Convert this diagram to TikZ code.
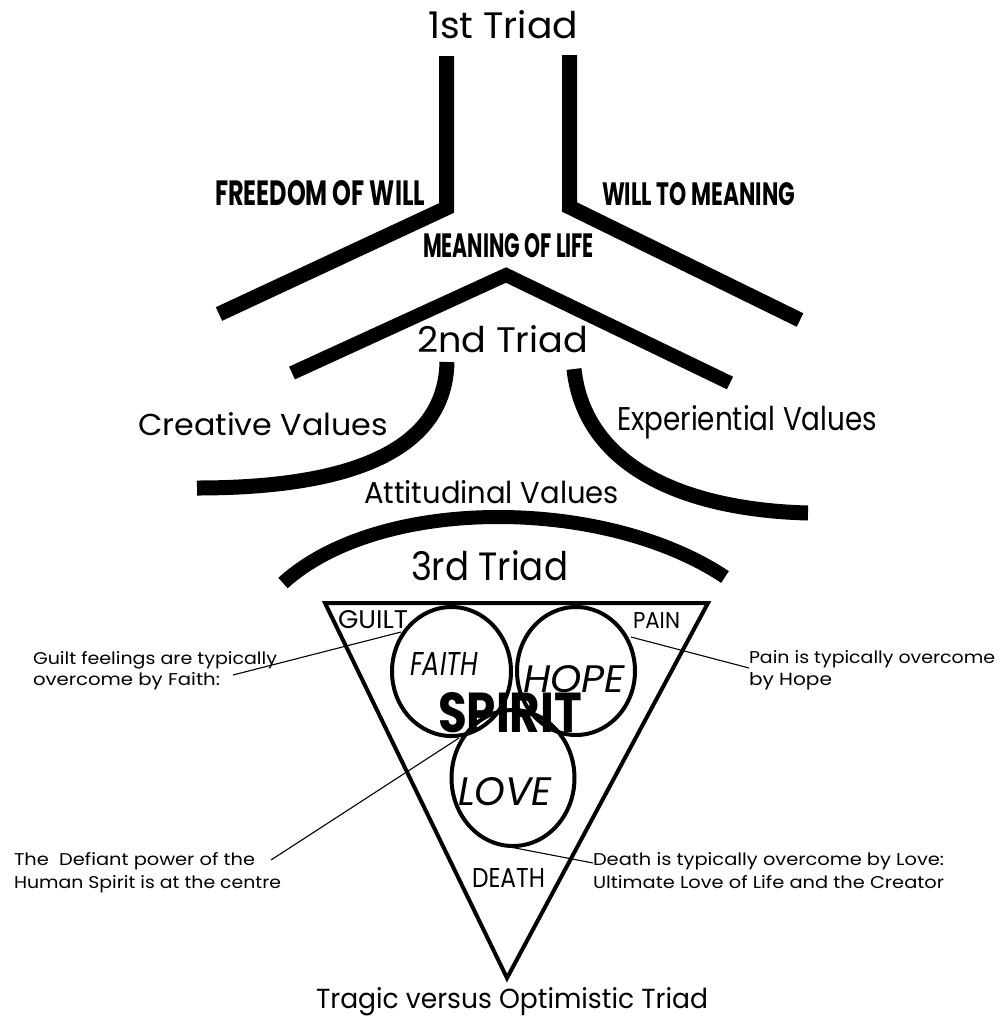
\documentclass[tikz,border=0pt]{standalone}
\usepackage{fontspec}
\setmainfont{Poppins}
\usepackage{graphicx}
\usetikzlibrary{shapes.geometric}
\newcommand{\fitt}[3]{\resizebox{#1pt}{#2pt}{#3}}
\tikzset{
  bar/.style={line width=15pt, line join=miter},
  vbar/.style={line width=14pt, line join=miter},
  thinline/.style={line width=1.1pt},
  lbl/.style={inner sep=0pt, outer sep=0pt, anchor=base west},
  ring/.style={draw, ellipse, line width=4pt, inner sep=0pt},
}
\begin{document}
\begin{tikzpicture}[x=1pt, y=-1pt]
\fill[white] (0,0) rectangle (1000,1021);
\useasboundingbox (0,0) rectangle (1000,1021);

% first triad
\node[lbl] (t1) at (428,38) {\fitt{150}{28}{1st Triad}};
\draw[bar] (446.5,56) -- (446.5,208) -- (219,314);
\draw[bar] (569.5,55) -- (569.5,207) -- (800,320);
\node[lbl] (fw) at (215,205) {\fitt{210}{25}{\bfseries FREEDOM OF WILL}};
\node[lbl] (wm) at (602,205) {\fitt{193}{23}{\bfseries WILL TO MEANING}};
\node[lbl] (ml) at (423,257) {\fitt{171}{24}{\bfseries MEANING OF LIFE}};

% second triad
\draw[vbar] (292,373) -- (506,275) -- (730,383);
\node[lbl] (t2) at (417,352) {\fitt{171}{27}{2nd Triad}};
\draw[bar] (447,362) .. controls (445,460) and (330,488) .. (197,488);
\draw[bar] (574,369) .. controls (585,470) and (690,510) .. (808,513);
\node[lbl] (cv) at (138,435) {\fitt{250}{23}{Creative Values}};
\node[lbl] (ev) at (617,430) {\fitt{260}{25}{Experiential Values}};
\node[lbl] (av) at (364,503) {\fitt{255}{23}{Attitudinal Values}};

% third triad
\draw[vbar] (283,583) .. controls (380,495) and (605,497) .. (725,577);
\node[lbl] (t3) at (411,580) {\fitt{157}{30}{3rd Triad}};

% triangle
\draw[line width=4pt, line join=miter] (325,603) -- (708,603) -- (507,978) -- cycle;
\node[ring, minimum width=119pt, minimum height=129pt] (faith) at (451.5,671.5) {};
\node[ring, minimum width=118pt, minimum height=128pt] (hope) at (576,671) {};
\node[ring, minimum width=123pt, minimum height=136pt] (love) at (513,778) {};

\node[lbl] (guilt) at (338,628) {\fitt{70}{18}{GUILT}};
\node[lbl] (pain) at (633,628) {\fitt{47}{16}{PAIN}};
\node[lbl] (death) at (472,887) {\fitt{73}{19}{DEATH}};
\node[lbl] (ft) at (410,675) {\fitt{68}{23}{\itshape FAITH}};
\node[lbl] (hp) at (523,692) {\fitt{102}{27}{\itshape HOPE}};
\node[lbl] (lv) at (458,805) {\fitt{94}{28}{\itshape LOVE}};
\node[lbl] (spirit) at (438,732) {\fitt{144}{40}{\bfseries SPIRIT}};

% notes
\node[lbl] (gn1) at (33,664) {\fitt{244}{13}{Guilt feelings are typically}};
\node[lbl] (gn2) at (33,685) {\fitt{187}{13}{overcome by Faith:}};
\node[lbl] (pn1) at (749,663) {\fitt{246}{13}{Pain is typically overcome}};
\node[lbl] (pn2) at (749,685) {\fitt{83}{13}{by Hope}};
\node[lbl] (sn1) at (14,865) {\fitt{241}{13}{The\ \ Defiant power of the}};
\node[lbl] (sn2) at (14,888) {\fitt{267}{13}{Human Spirit is at the centre}};
\node[lbl] (dn1) at (593,865) {\fitt{351}{13}{Death is typically overcome by Love:}};
\node[lbl] (dn2) at (593,888) {\fitt{351}{13}{Ultimate Love of Life and the Creator}};

\node[lbl] (tr) at (316,1008) {\fitt{392}{21}{Tragic versus Optimistic Triad}};

% callouts
\coordinate (ga) at (233,675);
\coordinate (gb) at (401,632);
\coordinate (pa) at (631,637);
\coordinate (pb) at (749,668);
\coordinate (sa) at (459,738);
\coordinate (sb) at (271,860);
\coordinate (da) at (510,847);
\coordinate (db) at (593,863);
\draw[thinline] (ga) -- (gb);
\draw[thinline] (pa) -- (pb);
\draw[thinline] (sa) -- (sb);
\draw[thinline] (da) -- (db);
\end{tikzpicture}
\end{document}
